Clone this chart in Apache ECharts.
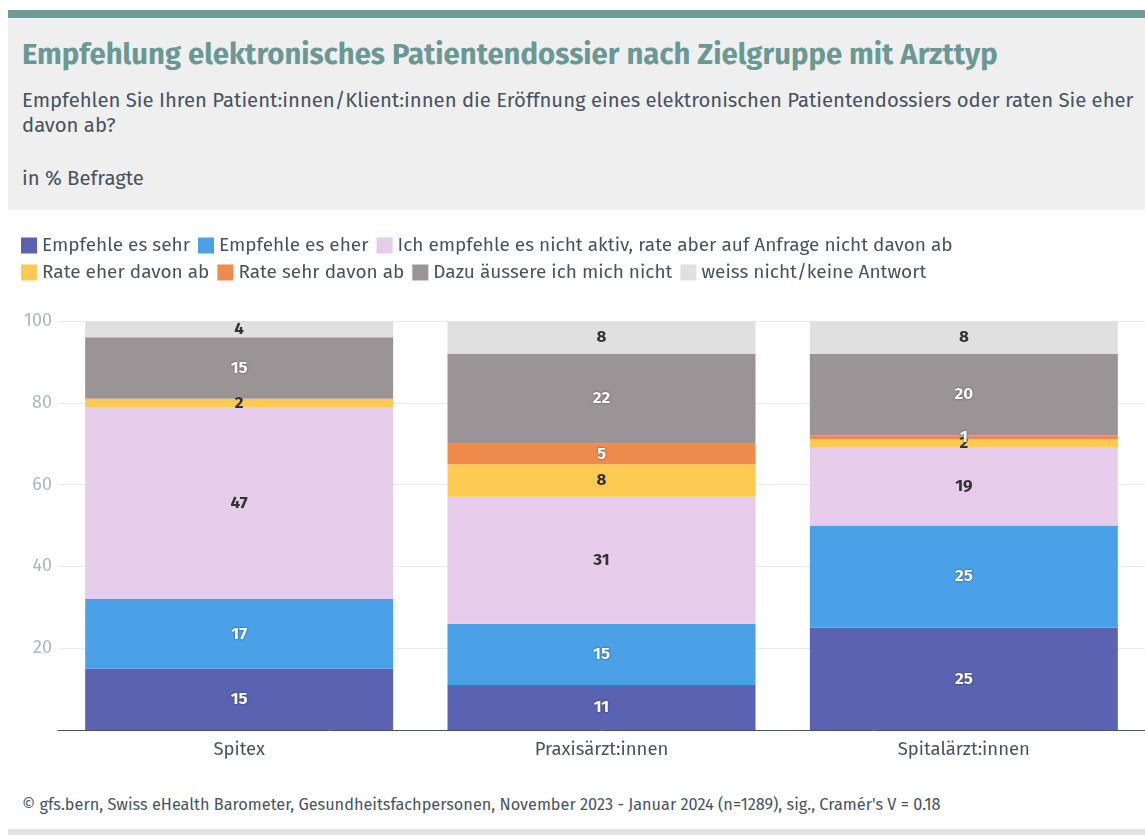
<!DOCTYPE html>
<html>
<head>
<meta charset="utf-8">
<script src="https://cdn.jsdelivr.net/npm/echarts@6/dist/echarts.min.js"></script>
<style>
body {
  margin: 0;
  width: 1145px;
  height: 835px;
  background: #fff;
  font-family: "Fira Sans", "Open Sans", sans-serif;
  position: relative;
  overflow: hidden;
}
.top-line {
  position: absolute; left: 8px; top: 10px; width: 1137px; height: 8px;
  background: #6e9a97;
}
.header {
  position: absolute; left: 8px; top: 18px; width: 1137px; height: 192px;
  background: #efefef;
}
.title {
  position: absolute; left: 14px; top: 19px;
  font-size: 29.3px; font-weight: bold; color: #6b9895; white-space: nowrap;
}
.sub {
  position: absolute; left: 14px; top: 70px;
  font-size: 20.3px; line-height: 25px; color: #46535f; white-space: nowrap;
}
.unit {
  position: absolute; left: 14px; top: 148px;
  font-size: 20.3px; color: #46535f;
}
#chart {
  position: absolute; left: 0; top: 225px; width: 1145px; height: 545px;
}
.footer {
  position: absolute; left: 22px; top: 795px;
  font-size: 16.3px; color: #46535f; white-space: nowrap;
}
.bottom-line {
  position: absolute; left: 8px; top: 829px; width: 1137px; height: 6px;
  background: #e3e3e3;
}
</style>
</head>
<body>
<div class="top-line"></div>
<div class="header">
  <div class="title">Empfehlung elektronisches Patientendossier nach Zielgruppe mit Arzttyp</div>
  <div class="sub">Empfehlen Sie Ihren Patient:innen/Klient:innen die Eröffnung eines elektronischen Patientendossiers oder raten Sie eher<br>davon ab?</div>
  <div class="unit">in % Befragte</div>
</div>
<div id="chart"></div>
<div class="footer">© gfs.bern, Swiss eHealth Barometer, Gesundheitsfachpersonen, November 2023 - Januar 2024 (n=1289), sig., Cramér's V = 0.18</div>
<div class="bottom-line"></div>

<script>
// Daten
var categories = ['Spitex', 'Praxisärzt:innen', 'Spitalärzt:innen'];
var seriesNames = [
  'Empfehle es sehr',
  'Empfehle es eher',
  'Ich empfehle es nicht aktiv, rate aber auf Anfrage nicht davon ab',
  'Rate eher davon ab',
  'Rate sehr davon ab',
  'Dazu äussere ich mich nicht',
  'weiss nicht/keine Antwort'
];
var empfSehr   = [15, 11, 25];
var empfEher   = [17, 15, 25];
var nichtAktiv = [47, 31, 19];
var rateEher   = [2, 8, 2];
var rateSehr   = [0, 5, 1];
var dazuNicht  = [15, 22, 20];
var weissNicht = [4, 8, 8];
var yTicks = [0, 20, 40, 60, 80, 100];

var colors = ['#5a63b1', '#4aa1e8', '#e6cbeb', '#fdca52', '#ef8a4d', '#9b9496', '#e0e0e0'];
var labelColors = ['#fff', '#fff', '#333', '#333', '#fff', '#fff', '#333'];
var allData = [empfSehr, empfEher, nichtAktiv, rateEher, rateSehr, dazuNicht, weissNicht];

var series = seriesNames.map(function (name, i) {
  var white = labelColors[i] === '#fff';
  return {
    name: name,
    type: 'bar',
    stack: 'total',
    barCategoryGap: '15%',
    data: allData[i],
    itemStyle: { color: colors[i] },
    label: {
      show: true,
      position: 'inside',
      fontSize: 17,
      fontWeight: 'bold',
      color: labelColors[i],
      textShadowColor: white ? 'rgba(0,0,0,0.6)' : 'transparent',
      textShadowBlur: white ? 2 : 0,
      formatter: function (p) { return p.value > 0 ? p.value : ''; }
    }
  };
});

var myChart = echarts.init(document.getElementById('chart'));
myChart.setOption({
  animation: false,
  textStyle: { fontFamily: '"Fira Sans", "Open Sans", sans-serif' },
  legend: {
    left: 16,
    right: 10,
    top: 6,
    icon: 'rect',
    itemWidth: 16,
    itemHeight: 16,
    itemGap: 8,
    textStyle: { fontSize: 19, color: '#46535f', padding: [0, 6, 0, 0] },
    data: seriesNames
  },
  grid: { left: 58, right: 0, top: 96, bottom: 40 },
  xAxis: {
    type: 'category',
    data: categories,
    axisTick: { show: false },
    axisLine: { lineStyle: { color: '#4a5560' } },
    axisLabel: { fontSize: 18.5, color: '#46535f', margin: 10 }
  },
  yAxis: {
    type: 'value',
    min: yTicks[0],
    max: yTicks[yTicks.length - 1],
    interval: 20,
    axisLabel: {
      fontSize: 18, color: '#b0b5ba', margin: 6,
      formatter: function (v) { return v === 0 ? '' : v; }
    },
    splitLine: { lineStyle: { color: '#ebebeb' } }
  },
  series: series
});
</script>
</body>
</html>
